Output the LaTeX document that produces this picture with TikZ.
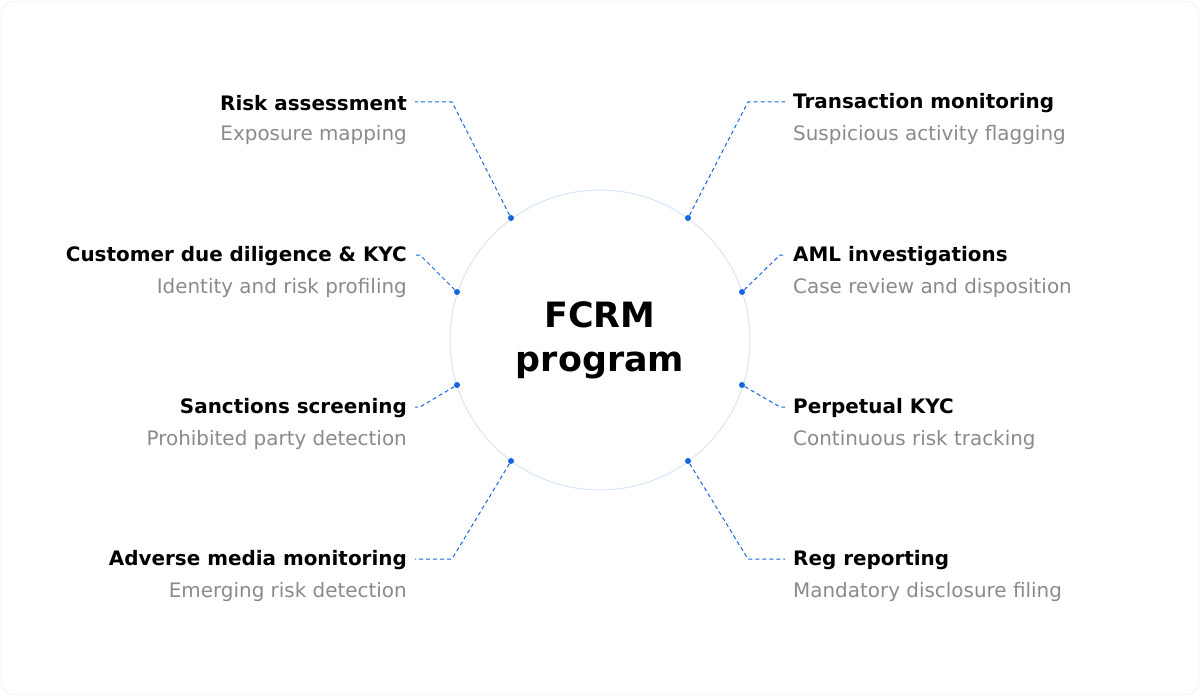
\documentclass[tikz,border=0pt]{standalone}
\usepackage{fontspec}
\setmainfont{DejaVu Sans}
\definecolor{dotblue}{HTML}{1565E0}
\definecolor{ringblue}{HTML}{D6E4F7}
\definecolor{subgray}{HTML}{8A8A8A}
\definecolor{framegray}{HTML}{E2E2E2}
\tikzset{
  lead/.style={dotblue,dash pattern=on 4bp off 3bp,line width=1bp},
  dot/.style={circle,fill=dotblue,inner sep=0pt,minimum size=6bp},
  ttl/.style={inner sep=0pt,font=\fontsize{20}{24}\selectfont\bfseries,text=black},
  sub/.style={inner sep=0pt,font=\fontsize{20}{24}\selectfont,text=subgray},
}
\begin{document}
\begin{tikzpicture}[x=1bp,y=-1bp]
\draw[framegray,rounded corners=14bp] (1,1) rectangle (1199,695);
\useasboundingbox (0,0) rectangle (1200,696);
\node (ring) at (600,340) [circle,draw=ringblue,line width=1bp,minimum size=300bp] {};
\node (hub) at (600,340) [align=center,font=\fontsize{35}{44}\selectfont\bfseries] {FCRM\\program};
%% left side
\node (d1) at (511,218) [dot] {};
\node (d2) at (457,292) [dot] {};
\node (d3) at (457,385) [dot] {};
\node (d4) at (511,461) [dot] {};
\node (t1) at (407,103) [ttl,anchor=east] {Risk assessment};
\node (s1) at (407,135) [sub,anchor=east] {Exposure mapping};
\node (t2) at (407,256) [ttl,anchor=east] {Customer due diligence \& KYC};
\node (s2) at (407,288) [sub,anchor=east] {Identity and risk profiling};
\node (t3) at (407,408) [ttl,anchor=east] {Sanctions screening};
\node (s3) at (407,440) [sub,anchor=east] {Prohibited party detection};
\node (t4) at (407,560) [ttl,anchor=east] {Adverse media monitoring};
\node (s4) at (407,592) [sub,anchor=east] {Emerging risk detection};
\coordinate (e1) at (415,102); \coordinate (e2) at (415,255);
\coordinate (e3) at (415,407); \coordinate (e4) at (415,559);
\draw[lead] (d1) -- (452,102) -- (e1);
\draw[lead] (d2) -- (420,255) -- (e2);
\draw[lead] (d3) -- (420,407) -- (e3);
\draw[lead] (d4) -- (452,559) -- (e4);
%% right side
\node (d5) at (688,218) [dot] {};
\node (d6) at (742,292) [dot] {};
\node (d7) at (742,385) [dot] {};
\node (d8) at (688,461) [dot] {};
\node (t5) at (793,103) [ttl,anchor=west] {Transaction monitoring};
\node (s5) at (793,135) [sub,anchor=west] {Suspicious activity flagging};
\node (t6) at (793,256) [ttl,anchor=west] {AML investigations};
\node (s6) at (793,288) [sub,anchor=west] {Case review and disposition};
\node (t7) at (793,408) [ttl,anchor=west] {Perpetual KYC};
\node (s7) at (793,440) [sub,anchor=west] {Continuous risk tracking};
\node (t8) at (793,560) [ttl,anchor=west] {Reg reporting};
\node (s8) at (793,592) [sub,anchor=west] {Mandatory disclosure filing};
\coordinate (e5) at (785,102); \coordinate (e6) at (785,255);
\coordinate (e7) at (785,407); \coordinate (e8) at (785,559);
\draw[lead] (d5) -- (748,102) -- (e5);
\draw[lead] (d6) -- (780,255) -- (e6);
\draw[lead] (d7) -- (780,407) -- (e7);
\draw[lead] (d8) -- (748,559) -- (e8);
%
\end{tikzpicture}
\end{document}
